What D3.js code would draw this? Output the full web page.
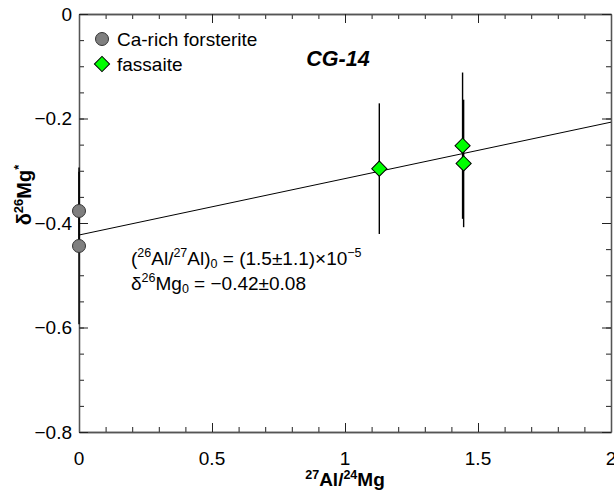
<!DOCTYPE html>
<html>
<head>
<meta charset="utf-8">
<script src="https://cdn.jsdelivr.net/npm/d3@7"></script>
<style>
  body { margin: 0; background: #fff; }
  text { font-family: "Liberation Sans", Arial, sans-serif; }
</style>
</head>
<body>
<script>
// forsterite points (x = 27Al/24Mg, y = d26Mg*, e = 2sigma)
const forsX = [0, 0];
const forsY = [-0.377, -0.444];
const forsE = [0.075, 0.15];

// fassaite points
const fassX = [1.129, 1.442, 1.446];
const fassY = [-0.296, -0.252, -0.286];
const fassE = [0.125, 0.140, 0.122];

// isochron fit
const fitIntercept = -0.423;
const fitSlope = 0.108;

const xTicks = [0, 0.5, 1, 1.5, 2];
const yTicks = [0, -0.2, -0.4, -0.6, -0.8];

const w = 614, h = 491;
const pl = 79, pr = 611, pt = 14, pb = 432;

const svg = d3.select("body").append("svg")
  .attr("width", w)
  .attr("height", h);

const x = d3.scaleLinear().domain([0, 2]).range([pl, pr]);
const y = d3.scaleLinear().domain([-0.8, 0]).range([pb, pt]);

const minorX = d3.range(0, 2.0001, 0.1);
const minorY = d3.range(-0.8, 0.0001, 0.05);

// axes with inward ticks on all four sides
const axisColor = "#555";
const addAxis = (axis, tx, ty) => {
  const g = svg.append("g").attr("transform", `translate(${tx},${ty})`).call(axis);
  g.select(".domain").attr("stroke", axisColor).attr("stroke-width", 1.3);
  g.selectAll(".tick line").attr("stroke", "#222");
  g.selectAll("text").remove();
  return g;
};
addAxis(d3.axisBottom(x).tickValues(minorX).tickSize(-5).tickSizeOuter(0), 0, pb);
addAxis(d3.axisBottom(x).tickValues(xTicks).tickSize(-9).tickSizeOuter(0), 0, pb);
addAxis(d3.axisTop(x).tickValues(minorX).tickSize(-5).tickSizeOuter(0), 0, pt);
addAxis(d3.axisTop(x).tickValues(xTicks).tickSize(-9).tickSizeOuter(0), 0, pt);
addAxis(d3.axisLeft(y).tickValues(minorY).tickSize(-5).tickSizeOuter(0), pl, 0);
addAxis(d3.axisLeft(y).tickValues(yTicks).tickSize(-9).tickSizeOuter(0), pl, 0);
addAxis(d3.axisRight(y).tickValues(minorY).tickSize(-5).tickSizeOuter(0), pr, 0);
addAxis(d3.axisRight(y).tickValues(yTicks).tickSize(-9).tickSizeOuter(0), pr, 0);

const fmt = v => v === 0 ? "0" : d3.format(".1f")(v).replace("-", "\u2212");

svg.append("g").selectAll("text")
  .data(xTicks)
  .enter().append("text")
  .attr("x", d => x(d))
  .attr("y", 465)
  .attr("text-anchor", "middle")
  .attr("font-size", 19)
  .text(d => d3.format("")(d));

svg.append("g").selectAll("text")
  .data(yTicks)
  .enter().append("text")
  .attr("x", 72)
  .attr("y", d => y(d) + 6.5)
  .attr("text-anchor", "end")
  .attr("font-size", 19)
  .text(fmt);

// axis titles
const xt = svg.append("text")
  .attr("x", 345).attr("y", 486)
  .attr("text-anchor", "middle")
  .attr("font-size", 19).attr("font-weight", "bold");
xt.append("tspan").attr("font-size", 12.5).attr("dy", -7).text("27");
xt.append("tspan").attr("dy", 7).text("Al/");
xt.append("tspan").attr("font-size", 12.5).attr("dy", -7).text("24");
xt.append("tspan").attr("dy", 7).text("Mg");

const yt = svg.append("text")
  .attr("transform", "translate(31,195) rotate(-90)")
  .attr("text-anchor", "middle")
  .attr("font-size", 20).attr("font-weight", "bold");
yt.append("tspan").text("\u03b4");
yt.append("tspan").attr("font-size", 13).attr("dy", -8).text("26");
yt.append("tspan").attr("dy", 8).text("Mg");
yt.append("tspan").attr("font-size", 13).attr("dy", -8).text("*");

// isochron line
svg.append("line")
  .attr("x1", x(0)).attr("y1", y(fitIntercept))
  .attr("x2", x(2)).attr("y2", y(fitIntercept + fitSlope * 2))
  .attr("stroke", "#000").attr("stroke-width", 1);

// error bars
const fors = forsX.map((d, i) => ({ x: d, y: forsY[i], e: forsE[i] }));
const fass = fassX.map((d, i) => ({ x: d, y: fassY[i], e: fassE[i] }));

svg.append("g").selectAll("line")
  .data(fors.concat(fass))
  .enter().append("line")
  .attr("x1", d => x(d.x)).attr("x2", d => x(d.x))
  .attr("y1", d => y(d.y + d.e)).attr("y2", d => y(d.y - d.e))
  .attr("stroke", "#000").attr("stroke-width", 1.4);

// points
svg.append("g").selectAll("circle")
  .data(fors)
  .enter().append("circle")
  .attr("cx", d => x(d.x)).attr("cy", d => y(d.y))
  .attr("r", 6.5)
  .attr("fill", "#7f7f7f").attr("stroke", "#333").attr("stroke-width", 1);

const diamond = d3.symbol().type(d3.symbolSquare).size(115);
svg.append("g").selectAll("path")
  .data(fass)
  .enter().append("path")
  .attr("d", diamond)
  .attr("transform", d => `translate(${x(d.x)},${y(d.y)}) rotate(45)`)
  .attr("fill", "#00ff00").attr("stroke", "#000").attr("stroke-width", 1);

// legend
const legend = svg.append("g").attr("id", "legend");
legend.append("circle")
  .attr("cx", 102).attr("cy", 39).attr("r", 6.5)
  .attr("fill", "#7f7f7f").attr("stroke", "#333");
legend.append("text")
  .attr("x", 117).attr("y", 46)
  .attr("font-size", 19)
  .text("Ca-rich forsterite");
legend.append("path")
  .attr("d", diamond)
  .attr("transform", "translate(102,64) rotate(45)")
  .attr("fill", "#00ff00").attr("stroke", "#000");
legend.append("text")
  .attr("x", 117).attr("y", 71)
  .attr("font-size", 19)
  .text("fassaite");

svg.append("text")
  .attr("x", 338).attr("y", 66)
  .attr("text-anchor", "middle")
  .attr("font-size", 21.5).attr("font-weight", "bold").attr("font-style", "italic")
  .text("CG-14");

// annotation
const a1 = svg.append("text").attr("x", 131).attr("y", 265).attr("font-size", 19);
a1.append("tspan").text("(");
a1.append("tspan").attr("font-size", 12.5).attr("dy", -8).text("26");
a1.append("tspan").attr("dy", 8).text("Al/");
a1.append("tspan").attr("font-size", 12.5).attr("dy", -8).text("27");
a1.append("tspan").attr("dy", 8).text("Al)");
a1.append("tspan").attr("font-size", 12.5).attr("dy", 3).text("0");
a1.append("tspan").attr("dy", -3).text(" = (1.5\u00b11.1)\u00d710");
a1.append("tspan").attr("font-size", 12.5).attr("dy", -8).text("\u22125");

const a2 = svg.append("text").attr("x", 131).attr("y", 290).attr("font-size", 19);
a2.append("tspan").text("\u03b4");
a2.append("tspan").attr("font-size", 12.5).attr("dy", -8).text("26");
a2.append("tspan").attr("dy", 8).text("Mg");
a2.append("tspan").attr("font-size", 12.5).attr("dy", 3).text("0");
a2.append("tspan").attr("dy", -3).text(" = \u22120.42\u00b10.08");
</script>
</body>
</html>
